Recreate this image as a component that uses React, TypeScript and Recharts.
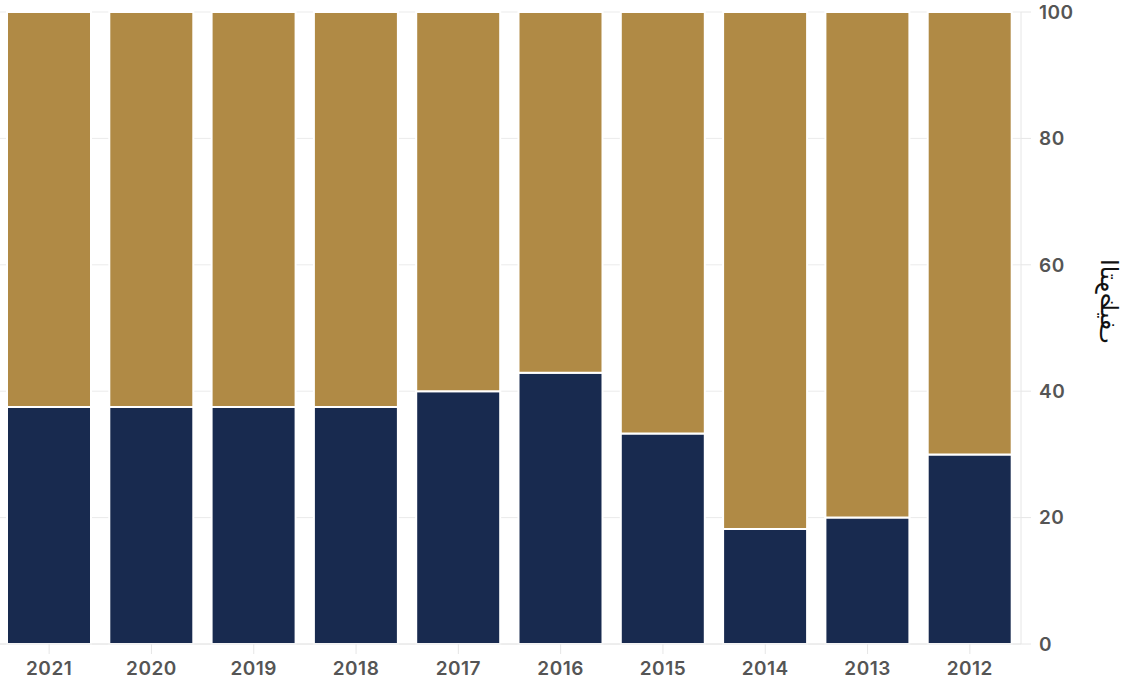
import React from 'react';
import { BarChart, Bar, XAxis, YAxis, CartesianGrid } from 'recharts';

const years = ['2021', '2020', '2019', '2018', '2017', '2016', '2015', '2014', '2013', '2012'];
const navyValues = [37.5, 37.5, 37.5, 37.5, 40, 42.9, 33.3, 18.2, 20, 30];
const goldValues = [62.5, 62.5, 62.5, 62.5, 60, 57.1, 66.7, 81.8, 80, 70];
const yTicks = [0, 20, 40, 60, 80, 100];
const axisTitle = 'التوظيف';

const data = years.map((y, i) => ({ year: y, navy: navyValues[i], gold: goldValues[i] }));

const NAVY = '#182a4f';
const GOLD = '#b08a45';
const GRID = '#ebebeb';
const TICK_FONT = { fill: '#555', fontSize: 19, fontFamily: 'Inter', fontWeight: 600, letterSpacing: 0.5 };

const AxisTitle = (props: any) => {
  const vb = props.viewBox || {};
  const x = vb.x + 88;
  const y = vb.y + vb.height * 0.458;
  return (
    <text
      x={0}
      y={0}
      transform={`translate(${x}, ${y}) rotate(90) scale(-1, 1)`}
      textAnchor="middle"
      dominantBaseline="central"
      fontFamily="DejaVu Sans"
      fontSize={24}
      fill="#111"
    >
      {axisTitle}
    </text>
  );
};

export default function App() {
  return (
    <div style={{ position: 'absolute', left: -2, top: 0 }}>
      <BarChart
        width={1124}
        height={686}
        data={data}
        margin={{ top: 12, right: 41, bottom: 12, left: 0 }}
        barSize={84}
      >
        <CartesianGrid horizontal={true} vertical={false} stroke={GRID} />
        <XAxis
          dataKey="year"
          axisLine={{ stroke: '#e6e6e6' }}
          tickLine={{ stroke: '#e6e6e6' }}
          tickSize={10}
          tickMargin={8}
          height={30}
          tick={TICK_FONT}
          interval={0}
        />
        <YAxis
          orientation="right"
          domain={[0, 100]}
          ticks={yTicks}
          width={60}
          axisLine={{ stroke: '#e6e6e6' }}
          tickLine={{ stroke: '#e6e6e6' }}
          tickSize={10}
          tickMargin={8}
          tick={TICK_FONT}
          label={{ content: AxisTitle }}
        />
        <Bar dataKey="navy" stackId="a" fill={NAVY} stroke="#fff" strokeWidth={2} isAnimationActive={false} />
        <Bar dataKey="gold" stackId="a" fill={GOLD} stroke="#fff" strokeWidth={2} isAnimationActive={false} />
      </BarChart>
    </div>
  );
}
